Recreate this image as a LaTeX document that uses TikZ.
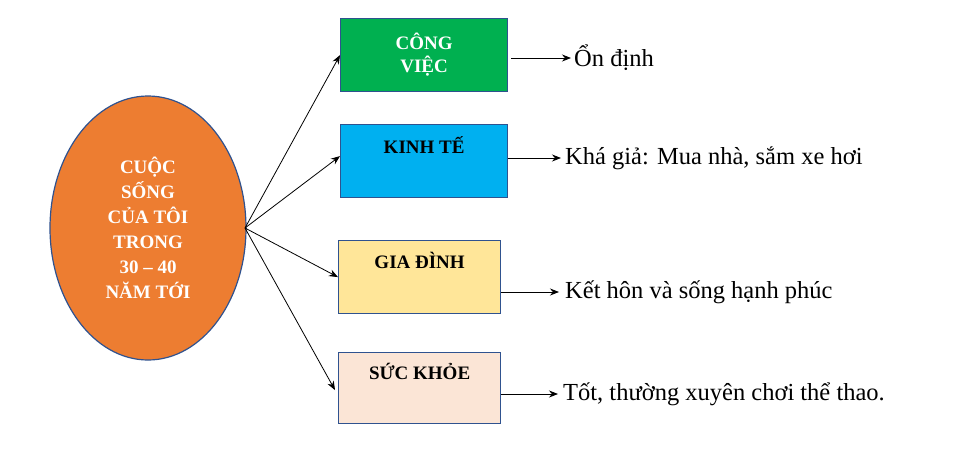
\documentclass[tikz,border=0pt]{standalone}
\usepackage{fontspec}
\setmainfont{Liberation Serif}
\usetikzlibrary{shapes.geometric,arrows.meta}
\definecolor{bord}{HTML}{2F528F}
\begin{document}
\begin{tikzpicture}[x=1pt,y=-1pt,
 box/.style={draw=bord,line width=1.2pt,minimum width=167pt,minimum height=73pt,anchor=north west,font=\bfseries\fontsize{19}{23}\selectfont,align=center,inner sep=0pt},
 arr/.style={-{Stealth[length=9pt,width=7pt]},line width=0.8pt},
 lab/.style={anchor=west,font=\fontsize{24.5}{28}\selectfont,inner sep=0pt}]
\useasboundingbox (0,0) rectangle (975,459);
\node[ellipse,draw=bord,line width=1.2pt,fill={rgb,255:red,237;green,125;blue,49},minimum width=196pt,minimum height=264pt,text=white,font=\bfseries\fontsize{19}{25}\selectfont,align=center] (e) at (148,228) {CUỘC\\SỐNG\\CỦA TÔI\\TRONG\\30 -- 40\\NĂM TỚI};
\node[box,fill={rgb,255:red,0;green,176;blue,80},text=white] (b1) at (340,18) {CÔNG\\VIỆC};
\node[box,fill={rgb,255:red,0;green,176;blue,240}] (b2) at (340,124) {KINH TẾ\\[10pt]};
\node[box,fill={rgb,255:red,255;green,230;blue,153},minimum width=162pt] (b3) at (338,240) {GIA ĐÌNH\\[10pt]};
\node[box,fill={rgb,255:red,251;green,229;blue,214},minimum width=162pt,minimum height=71pt] (b4) at (338,352) {SỨC KHỎE\\[10pt]};
\coordinate (o) at (245,228);
\draw[arr] (o) -- (b1.west);
\draw[arr] (o) -- ([yshift=5pt]b2.west);
\draw[arr] (o) -- (b3.west);
\draw[arr] (o) -- ([xshift=-3pt,yshift=-2pt]b4.west);
\node[lab] (t1) at (574,58) {Ổn định};
\node[lab] (t2) at (565,158) {Khá giả: Mua nhà, sắm xe hơi};
\node[lab] (t3) at (565,292) {Kết hôn và sống hạnh phúc};
\node[lab] (t4) at (563,394) {Tốt, thường xuyên chơi thể thao.};
\draw[arr] ([xshift=3pt]b1.east |- t1.west) -- ([xshift=-3pt]t1.west);
\draw[arr] (b2.east |- t2.west) -- ([xshift=-4pt]t2.west);
\draw[arr] (b3.east |- t3.west) -- ([xshift=-6pt]t3.west);
\draw[arr] (b4.east |- t4.west) -- ([xshift=-5pt]t4.west);
\end{tikzpicture}
\end{document}
